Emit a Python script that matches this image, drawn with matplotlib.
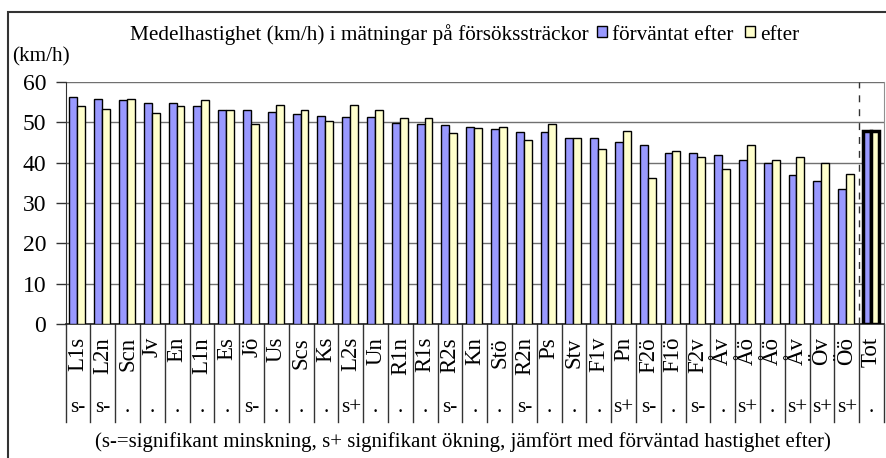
import numpy as np
import matplotlib
matplotlib.use("Agg")
import matplotlib.pyplot as plt
from matplotlib.patches import Rectangle
from matplotlib.transforms import blended_transform_factory

# --- DATA ---
stretches = ["L1s", "L2n", "Scn", "Jv", "En", "L1n", "Es", "Jö", "Us", "Scs", "Ks",
             "L2s", "Un", "R1n", "R1s", "R2s", "Kn", "Stö", "R2n", "Ps", "Stv", "F1v",
             "Pn", "F2ö", "F1ö", "F2v", "Åv", "Åö", "Åö", "Åv", "Öv", "Öö", "Tot"]
expected_after = [56.3, 55.8, 55.5, 54.7, 54.7, 54.0, 53.0, 53.0, 52.6, 52.0, 51.6,
                  51.3, 51.3, 49.9, 49.6, 49.3, 48.9, 48.3, 47.5, 47.5, 46.2, 46.2,
                  45.1, 44.4, 42.3, 42.3, 42.0, 40.7, 40.0, 36.9, 35.5, 33.5, 47.9]
measured_after = [54.0, 53.4, 55.8, 52.4, 54.0, 55.5, 53.0, 49.7, 54.3, 53.0, 50.3,
                  54.3, 53.0, 51.0, 51.0, 47.3, 48.5, 48.9, 45.5, 49.6, 46.2, 43.4,
                  47.9, 36.1, 43.0, 41.4, 38.5, 44.4, 40.6, 41.4, 39.9, 37.2, 47.9]
significance = ["s-", "s-", ".", ".", ".", ".", ".", "s-", ".", ".", ".",
                "s+", ".", ".", ".", "s-", ".", ".", "s-", ".", ".", ".",
                "s+", "s-", ".", "s-", ".", "s+", ".", "s+", "s+", "s+", "."]
y_ticks = [0, 10, 20, 30, 40, 50, 60]
series_names = ["förväntat efter", "efter"]

BLUE = "#9999ff"
YELLOW = "#ffffcc"
FS_TEXT = 15.3
FS_NOTE = 15.0
FS_TICK = 17
FS_NAME = 16.5

plt.rcParams["font.family"] = "Liberation Serif"

W, H = 887, 458
fig = plt.figure(figsize=(W / 100, H / 100), dpi=100)

# plot area in pixels: x 65.7..884, y 82..324
left, right, top, bottom = 65.7, 884.0, 82.0, 324.0
ax = fig.add_axes([left / W, 1 - bottom / H, (right - left) / W, (bottom - top) / H])

x = np.arange(len(stretches))
bw = 0.32
shift = -0.03
n = len(stretches) - 1  # last one is the total

ax.bar(x[:n] - bw / 2 + shift, expected_after[:n], bw, color=BLUE, edgecolor="black",
       linewidth=1.0, zorder=3)
ax.bar(x[:n] + bw / 2 + shift, measured_after[:n], bw, color=YELLOW, edgecolor="black",
       linewidth=1.0, zorder=3)
# total gets heavy outlines
ax.bar(x[n] - bw / 2 + shift, expected_after[n], bw, color=BLUE, edgecolor="black",
       linewidth=2.5, zorder=3)
ax.bar(x[n] + bw / 2 + shift, measured_after[n], bw, color=YELLOW, edgecolor="black",
       linewidth=2.5, zorder=3)

ax.set_xlim(-0.5, len(stretches) - 0.5)
ax.set_ylim(0, 60)
ax.set_yticks(y_ticks)
ax.set_yticklabels([str(t) for t in y_ticks], fontsize=FS_TICK)
ax.tick_params(axis="y", length=7, width=1, pad=7, color="#333333")
ax.set_xticks([])

ax.yaxis.grid(True, color="#707070", linewidth=1.0, zorder=0)
ax.set_axisbelow(True)
ax.spines["top"].set_visible(False)
ax.spines["right"].set_color("#909090")
ax.spines["left"].set_color("#333333")
ax.spines["bottom"].set_color("#222222")
ax.spines["bottom"].set_linewidth(1.2)

# dashed separator before total
ax.axvline(n - 0.5, color="#333333", linestyle=(0, (5, 5)), linewidth=1.0, zorder=4)

# table under the axis: names and significance
trans = blended_transform_factory(ax.transData, ax.transAxes)
table_bottom = -(422 - bottom) / (bottom - top)
for b in np.arange(-0.5, len(stretches) + 0.5, 1.0):
    ax.plot([b, b], [0, table_bottom], transform=trans, color="#333333",
            linewidth=1.0, clip_on=False)
name_y = -(337 - bottom) / (bottom - top)
sig_y = -(408 - bottom) / (bottom - top)
for i, (name, sg) in enumerate(zip(stretches, significance)):
    ax.text(i, name_y, name, transform=trans, rotation=90, ha="center", va="top",
            fontsize=FS_NAME)
    ax.text(i, sig_y, sg, transform=trans, ha="center", va="center", fontsize=FS_TEXT)

# title with inline legend
fig.text(130 / W, 1 - 40 / H, "Medelhastighet (km/h) i mätningar på försökssträckor",
         ha="left", va="baseline", fontsize=FS_TEXT)
for px, color, label in [(597, BLUE, series_names[0]), (745, YELLOW, series_names[1])]:
    fig.add_artist(Rectangle((px / W, 1 - 37 / H), 10 / W, 11 / H, transform=fig.transFigure,
                             facecolor=color, edgecolor="black", linewidth=1.0))
    fig.text((px + 15) / W, 1 - 40 / H, label, ha="left", va="baseline", fontsize=FS_TEXT)

fig.text(12 / W, 1 - 61 / H, "(km/h)", ha="left", va="baseline", fontsize=FS_TEXT)

fig.text(463 / W, 1 - 447 / H,
         "(s-=signifikant minskning, s+ signifikant ökning, jämfört med förväntad hastighet efter)",
         ha="center", va="baseline", fontsize=FS_NOTE)

# outer chart frame (runs past the right and bottom edges)
fig.add_artist(Rectangle((8 / W, -0.2), 1.2, 1.2 - 12 / H, transform=fig.transFigure,
                         fill=False, edgecolor="#333333", linewidth=1.5))

fig.savefig("out.png", dpi=100)
